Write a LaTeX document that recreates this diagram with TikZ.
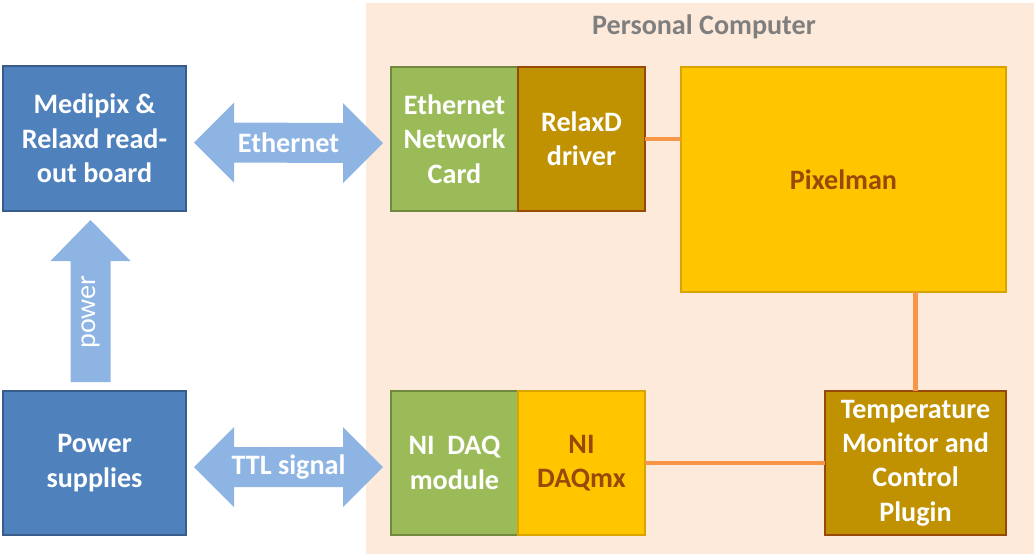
\documentclass[tikz,border=0pt]{standalone}
\usepackage{fontspec}
\setmainfont{Carlito}
\usetikzlibrary{positioning, calc}
\newcommand{\pxu}{0.025cm}
\definecolor{boxblue}{HTML}{4F81BD}
\definecolor{boxblueline}{HTML}{385D8A}
\definecolor{arrblue}{HTML}{8EB4E3}
\definecolor{boxgreen}{HTML}{9BBB59}
\definecolor{boxgreenline}{HTML}{71893F}
\definecolor{boxgold}{HTML}{C09100}
\definecolor{boxbrown}{HTML}{984807}
\definecolor{boxyellow}{HTML}{FFC600}
\definecolor{boxyellowline}{HTML}{D9A400}
\definecolor{pcpeach}{HTML}{FDEADA}
\definecolor{linkorange}{HTML}{F79646}
\definecolor{titlegray}{HTML}{7F7F7F}

\begin{document}
\begin{tikzpicture}[
  x=\pxu, y=-\pxu,
  every node/.style={font=\fontsize{20}{24.5}\selectfont\bfseries},
  blk/.style    = {align=center, outer sep=0pt, inner sep=2pt, line width=1.5pt, minimum height=144*\pxu},
  hw/.style     = {blk, draw=boxblueline, fill=boxblue, text=white, minimum width=183*\pxu},
  card/.style   = {blk, draw=boxgreenline, fill=boxgreen, text=white, minimum width=127*\pxu},
  drv/.style    = {blk, draw=boxbrown, fill=boxgold, text=white, minimum width=127*\pxu},
  soft/.style   = {blk, draw=boxyellowline, fill=boxyellow, text=boxbrown, minimum width=127*\pxu},
  pcbg/.style   = {fill=pcpeach, outer sep=0pt, inner sep=0pt},
  link/.style   = {linkorange, line width=3.5pt},
  barrow/.style = {fill=arrblue},
  arrtext/.style= {text=white},
]
  \useasboundingbox (0,0) rectangle (1034,554);
  % personal computer area
  \node[pcbg, minimum width=668*\pxu, minimum height=551*\pxu] (pc) at (700,278.5) {};
  \node[text=titlegray] (pctitle) at (704,27) {Personal Computer};

  % hardware
  \node[hw, minimum height=145*\pxu] (med) at (94.5,138.5) {Medipix \&\\Relaxd read-\\out board};
  \node[hw] (psu) at (94.5,463) {Power\\supplies};

  % inside the PC
  \node[card] (eth) at (454.5,139) {Ethernet\\Network\\Card};
  \node[drv, right=0pt of eth] (drv) {RelaxD\\driver};
  \node[soft, minimum width=325*\pxu, minimum height=225*\pxu] (pix) at (843.5,179.5) {Pixelman};
  \node[card] (daq) at (454.5,463) {NI~ DAQ\\module};
  \node[soft, right=0pt of daq] (daqmx) {NI\\DAQmx};
  \node[drv, minimum width=181*\pxu] (tmc) at (915.5,463) {Temperature\\Monitor and\\Control\\Plugin};

  \draw[link] (drv.east) -- (drv.east -| pix.west);
  \draw[link] (daqmx.east) -- (tmc.west);
  \draw[link] (tmc.north) -- (tmc.north |- pix.south);

  % block arrows
  \foreach \a/\b/\t/\n in {med/eth/Ethernet/ethlbl, psu/daq/TTL signal/ttllbl}
  {
    \coordinate (l) at ($(\a.east)+(8,4)$);
    \coordinate (r) at ($(\b.west)+(-8,4)$);
    \fill[barrow] (l) -- ++(40,-40) -- ++(0,20) -- ($(r)+(-40,-20)$) -- ++(0,-20)
      -- (r) -- ++(-40,40) -- ++(0,-20) -- ($(l)+(40,20)$) -- ++(0,20) -- cycle;
    \node[arrtext] (\n) at ($(l)!0.5!(r)$) {\t};
  }
  \coordinate (pb) at ($(psu.north)+(-4,-9)$);
  \coordinate (pt) at ($(med.south)+(-4,9)$);
  \fill[barrow] ($(pb)+(-20,0)$) -- ($(pt)+(-20,41)$) -- ++(-20,0) -- (pt)
    -- ($(pt)+(40,41)$) -- ++(-20,0) -- ($(pb)+(20,0)$) -- cycle;
  \node[arrtext, rotate=90, font=\fontsize{20}{24.5}\selectfont\mdseries] (pwrlbl) at ($(pb)+(0,-70)$) {power};
\end{tikzpicture}
\end{document}
